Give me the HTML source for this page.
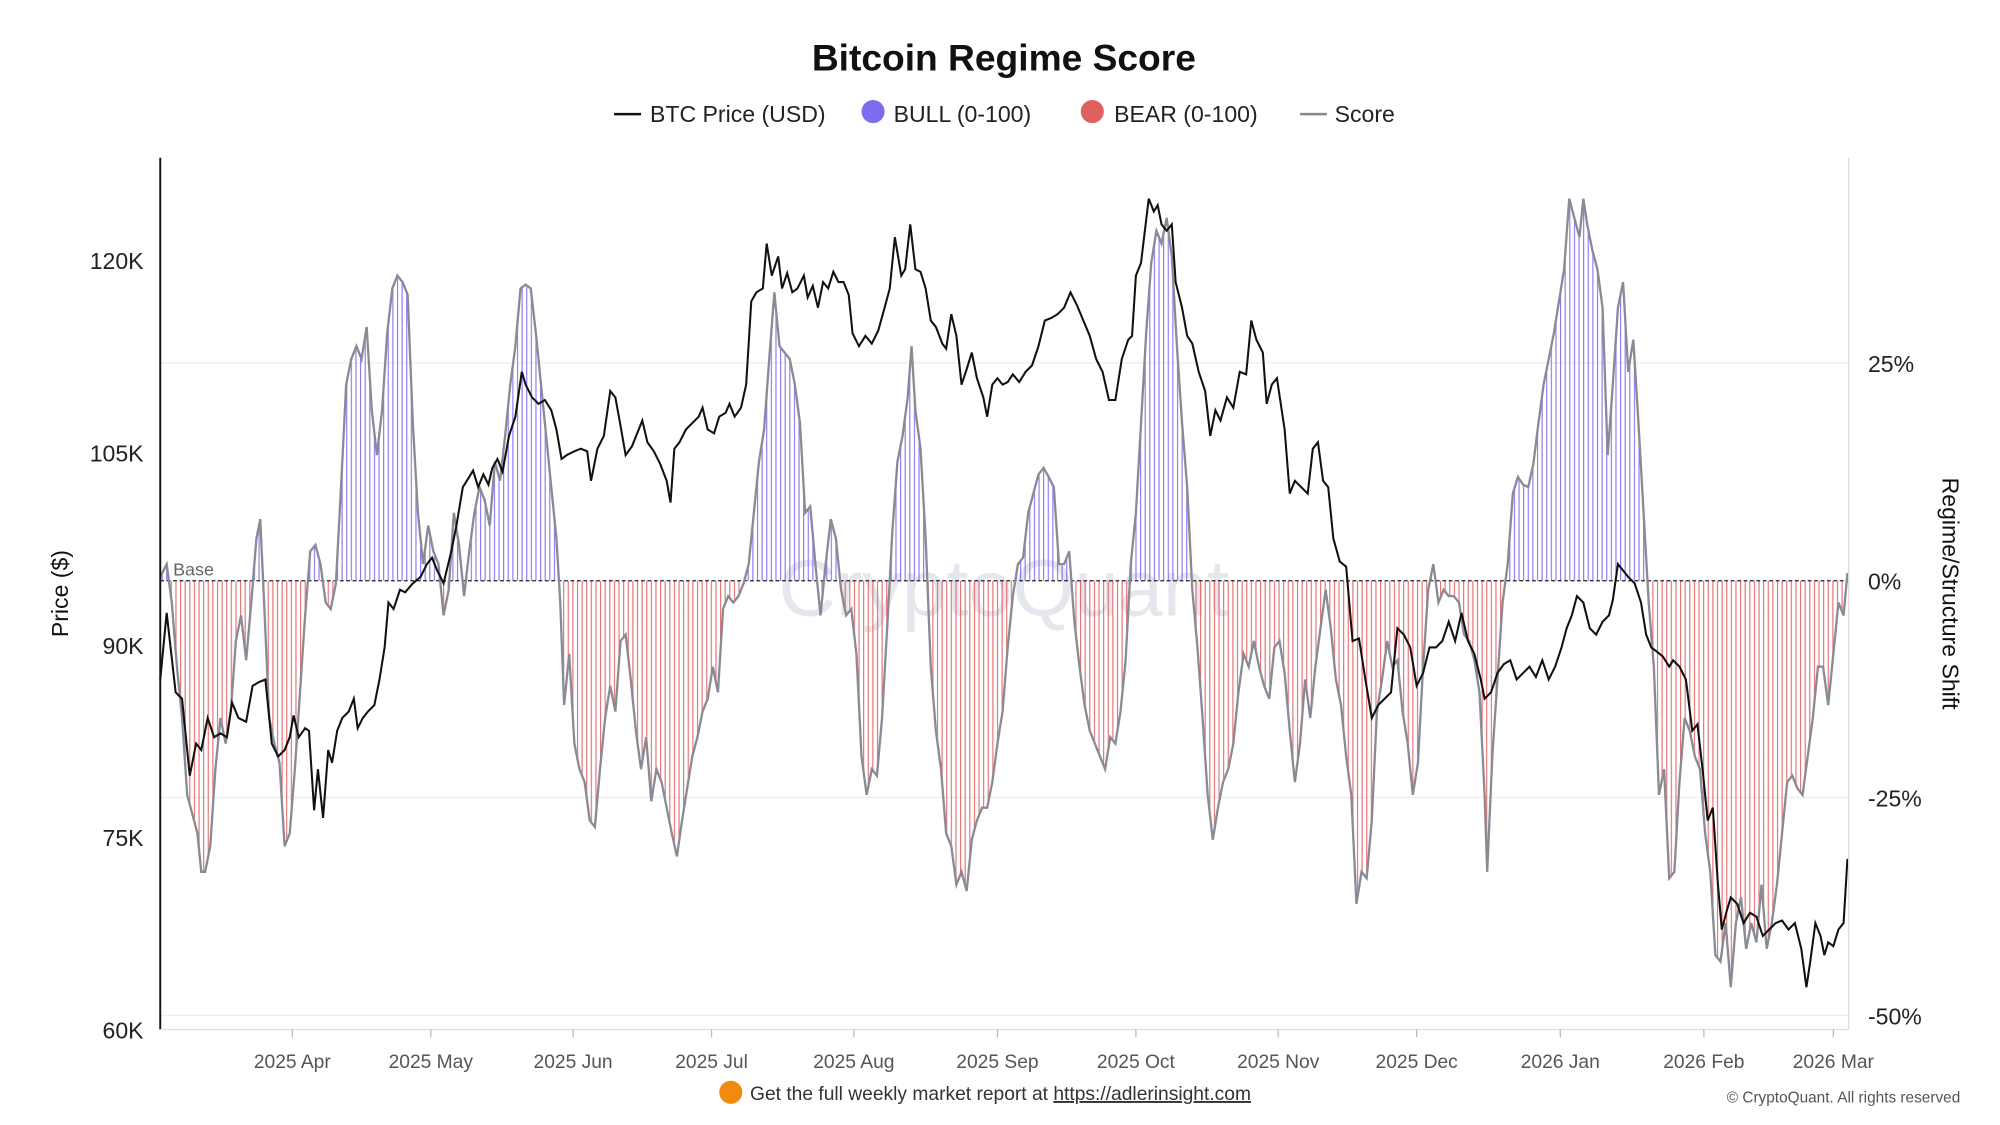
<!DOCTYPE html>
<html><head><meta charset="utf-8"><style>
html,body{margin:0;padding:0;background:#fff;}
svg{display:block;font-family:"Liberation Sans",sans-serif;}
</style></head><body>
<svg width="2000" height="1125" viewBox="0 0 1560 877.5" xmlns="http://www.w3.org/2000/svg">
<defs>
<pattern id="pb" x="126" y="0" width="3.6" height="10" patternUnits="userSpaceOnUse"><rect x="0" y="0" width="0.9" height="10" fill="#7565ee" fill-opacity="0.85"/></pattern>
<pattern id="pr" x="126" y="0" width="3.6" height="10" patternUnits="userSpaceOnUse"><rect x="0" y="0" width="0.9" height="10" fill="#e05a5a" fill-opacity="0.85"/></pattern>
<clipPath id="up"><rect x="120" y="100" width="1330" height="353"/></clipPath>
<clipPath id="dn"><rect x="120" y="453" width="1330" height="400"/></clipPath>
</defs>
<rect width="1560" height="877.5" fill="#fff"/>
<text x="783" y="55" text-anchor="middle" font-size="29" font-weight="bold" fill="#111">Bitcoin Regime Score</text>
<g font-size="18" fill="#222">
<line x1="479" y1="89" x2="500" y2="89" stroke="#111" stroke-width="2"/><text x="507" y="95">BTC Price (USD)</text>
<circle cx="681" cy="87" r="9" fill="#7b6cf0"/><text x="697" y="95">BULL (0-100)</text>
<circle cx="852" cy="87" r="9" fill="#e06060"/><text x="869" y="95">BEAR (0-100)</text>
<line x1="1014" y1="89" x2="1035" y2="89" stroke="#888" stroke-width="2"/><text x="1041" y="95">Score</text>
</g>
<g stroke="#eee" stroke-width="1">
<line x1="125" y1="283" x2="1442" y2="283"/><line x1="125" y1="622" x2="1442" y2="622"/><line x1="125" y1="792" x2="1442" y2="792"/>
</g>
<text x="783" y="480" text-anchor="middle" font-size="62" fill="#e6e6ee">CryptoQuant</text>
<polygon clip-path="url(#up)" fill="url(#pb)" points="125,453,125,450,130,440,134,470,138,520,142,560,146,620,150,635,154,650,157,680,160,680,164,660,168,600,172,560,176,580,180,555,184,500,188,480,192,515,196,470,200,420,203,405,206,470,210,560,214,580,218,595,222,660,226,650,230,600,234,540,238,480,242,430,246,425,250,440,254,470,258,475,262,455,266,380,270,300,274,280,278,270,282,280,286,255,290,320,294,355,298,320,302,260,306,225,310,215,314,220,318,230,322,330,326,400,330,440,334,410,338,430,342,440,346,480,350,460,354,400,358,425,362,465,366,430,370,400,374,380,378,390,382,410,386,360,390,375,394,340,398,300,402,270,406,225,410,222,414,225,418,260,422,300,426,340,430,380,434,420,437,470,440,550,444,510,448,580,452,600,456,610,460,640,464,645,468,600,472,560,476,535,480,555,484,500,488,495,492,530,496,570,500,600,504,575,508,625,512,600,516,610,520,630,524,650,528,668,532,640,536,615,540,590,544,575,548,555,552,545,556,520,560,540,564,475,568,465,572,470,576,465,580,455,584,440,588,400,592,360,596,335,600,280,604,228,608,270,612,275,616,280,620,300,624,330,628,400,632,395,636,440,640,480,644,440,648,405,652,420,656,460,660,480,664,475,668,510,672,590,676,620,680,600,684,605,688,560,692,490,696,415,700,360,704,340,708,310,711,270,714,320,718,350,722,420,726,520,730,570,734,600,738,650,742,660,746,690,750,680,754,695,758,655,762,640,766,630,770,630,774,610,778,580,782,555,786,505,790,465,794,440,798,435,802,400,806,385,810,370,814,365,818,372,822,380,826,440,830,440,834,430,838,485,842,520,846,550,850,570,854,580,858,590,862,600,866,575,870,580,874,555,878,515,882,440,886,400,890,330,894,260,898,205,902,180,906,190,910,170,914,200,918,270,922,330,926,380,930,460,934,505,938,560,942,620,946,655,950,630,954,610,958,600,962,580,966,540,970,510,974,520,978,500,982,520,986,535,990,545,994,505,998,500,1002,525,1006,570,1010,610,1014,580,1018,530,1022,560,1026,520,1030,490,1034,460,1038,490,1042,530,1046,550,1050,590,1054,620,1058,705,1062,680,1066,685,1070,640,1074,555,1078,530,1082,500,1086,520,1090,515,1094,555,1098,580,1102,620,1106,595,1110,520,1114,460,1118,440,1122,470,1126,460,1130,465,1134,465,1138,470,1142,495,1146,500,1150,515,1154,540,1158,620,1160,680,1164,590,1168,530,1172,470,1176,440,1180,385,1184,372,1188,378,1192,380,1196,362,1200,330,1204,300,1208,280,1212,260,1216,235,1220,210,1224,155,1228,170,1232,185,1235,155,1238,175,1242,195,1246,210,1250,240,1254,355,1258,300,1262,240,1266,220,1270,290,1274,265,1278,330,1282,400,1286,470,1290,520,1294,620,1298,600,1302,685,1306,680,1310,610,1314,560,1318,570,1322,590,1326,600,1330,650,1334,680,1338,745,1342,750,1346,720,1350,770,1354,720,1358,700,1362,740,1366,720,1370,735,1374,690,1378,740,1382,720,1386,690,1390,650,1394,610,1398,605,1402,615,1406,620,1410,590,1414,560,1418,520,1422,520,1426,550,1430,510,1434,470,1438,480,1441,447,1441,453"/>
<polygon clip-path="url(#dn)" fill="url(#pr)" points="125,453,125,450,130,440,134,470,138,520,142,560,146,620,150,635,154,650,157,680,160,680,164,660,168,600,172,560,176,580,180,555,184,500,188,480,192,515,196,470,200,420,203,405,206,470,210,560,214,580,218,595,222,660,226,650,230,600,234,540,238,480,242,430,246,425,250,440,254,470,258,475,262,455,266,380,270,300,274,280,278,270,282,280,286,255,290,320,294,355,298,320,302,260,306,225,310,215,314,220,318,230,322,330,326,400,330,440,334,410,338,430,342,440,346,480,350,460,354,400,358,425,362,465,366,430,370,400,374,380,378,390,382,410,386,360,390,375,394,340,398,300,402,270,406,225,410,222,414,225,418,260,422,300,426,340,430,380,434,420,437,470,440,550,444,510,448,580,452,600,456,610,460,640,464,645,468,600,472,560,476,535,480,555,484,500,488,495,492,530,496,570,500,600,504,575,508,625,512,600,516,610,520,630,524,650,528,668,532,640,536,615,540,590,544,575,548,555,552,545,556,520,560,540,564,475,568,465,572,470,576,465,580,455,584,440,588,400,592,360,596,335,600,280,604,228,608,270,612,275,616,280,620,300,624,330,628,400,632,395,636,440,640,480,644,440,648,405,652,420,656,460,660,480,664,475,668,510,672,590,676,620,680,600,684,605,688,560,692,490,696,415,700,360,704,340,708,310,711,270,714,320,718,350,722,420,726,520,730,570,734,600,738,650,742,660,746,690,750,680,754,695,758,655,762,640,766,630,770,630,774,610,778,580,782,555,786,505,790,465,794,440,798,435,802,400,806,385,810,370,814,365,818,372,822,380,826,440,830,440,834,430,838,485,842,520,846,550,850,570,854,580,858,590,862,600,866,575,870,580,874,555,878,515,882,440,886,400,890,330,894,260,898,205,902,180,906,190,910,170,914,200,918,270,922,330,926,380,930,460,934,505,938,560,942,620,946,655,950,630,954,610,958,600,962,580,966,540,970,510,974,520,978,500,982,520,986,535,990,545,994,505,998,500,1002,525,1006,570,1010,610,1014,580,1018,530,1022,560,1026,520,1030,490,1034,460,1038,490,1042,530,1046,550,1050,590,1054,620,1058,705,1062,680,1066,685,1070,640,1074,555,1078,530,1082,500,1086,520,1090,515,1094,555,1098,580,1102,620,1106,595,1110,520,1114,460,1118,440,1122,470,1126,460,1130,465,1134,465,1138,470,1142,495,1146,500,1150,515,1154,540,1158,620,1160,680,1164,590,1168,530,1172,470,1176,440,1180,385,1184,372,1188,378,1192,380,1196,362,1200,330,1204,300,1208,280,1212,260,1216,235,1220,210,1224,155,1228,170,1232,185,1235,155,1238,175,1242,195,1246,210,1250,240,1254,355,1258,300,1262,240,1266,220,1270,290,1274,265,1278,330,1282,400,1286,470,1290,520,1294,620,1298,600,1302,685,1306,680,1310,610,1314,560,1318,570,1322,590,1326,600,1330,650,1334,680,1338,745,1342,750,1346,720,1350,770,1354,720,1358,700,1362,740,1366,720,1370,735,1374,690,1378,740,1382,720,1386,690,1390,650,1394,610,1398,605,1402,615,1406,620,1410,590,1414,560,1418,520,1422,520,1426,550,1430,510,1434,470,1438,480,1441,447,1441,453"/>
<line x1="125" y1="453" x2="1442" y2="453" stroke="#222" stroke-width="1" stroke-dasharray="3,2"/>
<text x="135" y="449" font-size="14" fill="#666">Base</text>
<polyline fill="none" stroke="#8a8a96" stroke-width="1.8" points="125,450,130,440,134,470,138,520,142,560,146,620,150,635,154,650,157,680,160,680,164,660,168,600,172,560,176,580,180,555,184,500,188,480,192,515,196,470,200,420,203,405,206,470,210,560,214,580,218,595,222,660,226,650,230,600,234,540,238,480,242,430,246,425,250,440,254,470,258,475,262,455,266,380,270,300,274,280,278,270,282,280,286,255,290,320,294,355,298,320,302,260,306,225,310,215,314,220,318,230,322,330,326,400,330,440,334,410,338,430,342,440,346,480,350,460,354,400,358,425,362,465,366,430,370,400,374,380,378,390,382,410,386,360,390,375,394,340,398,300,402,270,406,225,410,222,414,225,418,260,422,300,426,340,430,380,434,420,437,470,440,550,444,510,448,580,452,600,456,610,460,640,464,645,468,600,472,560,476,535,480,555,484,500,488,495,492,530,496,570,500,600,504,575,508,625,512,600,516,610,520,630,524,650,528,668,532,640,536,615,540,590,544,575,548,555,552,545,556,520,560,540,564,475,568,465,572,470,576,465,580,455,584,440,588,400,592,360,596,335,600,280,604,228,608,270,612,275,616,280,620,300,624,330,628,400,632,395,636,440,640,480,644,440,648,405,652,420,656,460,660,480,664,475,668,510,672,590,676,620,680,600,684,605,688,560,692,490,696,415,700,360,704,340,708,310,711,270,714,320,718,350,722,420,726,520,730,570,734,600,738,650,742,660,746,690,750,680,754,695,758,655,762,640,766,630,770,630,774,610,778,580,782,555,786,505,790,465,794,440,798,435,802,400,806,385,810,370,814,365,818,372,822,380,826,440,830,440,834,430,838,485,842,520,846,550,850,570,854,580,858,590,862,600,866,575,870,580,874,555,878,515,882,440,886,400,890,330,894,260,898,205,902,180,906,190,910,170,914,200,918,270,922,330,926,380,930,460,934,505,938,560,942,620,946,655,950,630,954,610,958,600,962,580,966,540,970,510,974,520,978,500,982,520,986,535,990,545,994,505,998,500,1002,525,1006,570,1010,610,1014,580,1018,530,1022,560,1026,520,1030,490,1034,460,1038,490,1042,530,1046,550,1050,590,1054,620,1058,705,1062,680,1066,685,1070,640,1074,555,1078,530,1082,500,1086,520,1090,515,1094,555,1098,580,1102,620,1106,595,1110,520,1114,460,1118,440,1122,470,1126,460,1130,465,1134,465,1138,470,1142,495,1146,500,1150,515,1154,540,1158,620,1160,680,1164,590,1168,530,1172,470,1176,440,1180,385,1184,372,1188,378,1192,380,1196,362,1200,330,1204,300,1208,280,1212,260,1216,235,1220,210,1224,155,1228,170,1232,185,1235,155,1238,175,1242,195,1246,210,1250,240,1254,355,1258,300,1262,240,1266,220,1270,290,1274,265,1278,330,1282,400,1286,470,1290,520,1294,620,1298,600,1302,685,1306,680,1310,610,1314,560,1318,570,1322,590,1326,600,1330,650,1334,680,1338,745,1342,750,1346,720,1350,770,1354,720,1358,700,1362,740,1366,720,1370,735,1374,690,1378,740,1382,720,1386,690,1390,650,1394,610,1398,605,1402,615,1406,620,1410,590,1414,560,1418,520,1422,520,1426,550,1430,510,1434,470,1438,480,1441,447"/>
<polyline fill="none" stroke="#111" stroke-width="1.6" points="125,530,130,478,137,540,142,545,148,605,153,580,157,585,162,560,167,575,172,572,177,575,181,548,186,560,192,563,197,535,202,532,207,530,212,580,217,590,222,585,226,575,229,558,233,575,238,568,241,570,245,632,248,600,252,638,256,585,259,595,263,570,267,560,272,555,276,545,279,568,283,560,287,555,292,550,296,530,300,505,303,470,307,475,312,460,316,462,322,455,328,450,333,440,337,435,341,445,346,455,352,430,356,410,361,380,366,372,369,367,373,380,377,370,381,378,384,365,388,358,392,368,397,340,402,325,407,290,410,300,415,310,420,315,425,312,430,320,434,335,438,358,442,355,448,352,453,350,458,352,461,375,466,350,471,340,476,305,480,310,484,332,488,355,493,348,497,338,501,328,505,345,510,352,515,362,520,375,523,392,526,350,530,345,535,335,540,330,545,325,548,318,552,335,557,338,561,325,566,322,569,315,573,325,578,318,582,300,586,235,590,228,595,225,598,190,602,215,607,200,610,225,614,213,618,228,622,225,627,215,630,232,634,223,638,240,642,220,646,225,650,212,654,220,658,220,662,230,665,260,670,270,675,262,680,268,685,258,690,240,694,225,698,185,703,215,706,210,710,175,714,210,718,212,722,225,726,250,730,255,735,268,738,272,742,245,746,262,750,300,754,288,758,275,762,295,767,310,770,325,774,300,778,295,782,300,786,298,790,292,795,298,800,290,805,285,810,270,815,250,820,248,825,245,830,240,835,228,840,238,845,250,850,262,855,280,860,290,865,312,870,312,875,280,880,265,883,262,886,215,890,205,893,180,896,155,900,165,903,160,906,175,910,180,914,175,917,220,922,240,926,262,930,268,935,290,940,305,944,340,948,320,952,328,957,310,962,318,967,290,972,292,976,250,980,265,985,275,988,315,992,300,996,295,1002,335,1006,385,1010,375,1015,380,1020,385,1024,350,1028,345,1032,375,1036,380,1040,420,1045,438,1050,442,1055,500,1060,498,1065,530,1070,560,1075,550,1080,545,1085,540,1090,490,1095,495,1100,505,1105,535,1110,525,1115,505,1120,505,1125,500,1130,485,1135,500,1140,478,1145,500,1150,510,1155,530,1158,545,1163,540,1168,525,1173,518,1178,515,1183,530,1188,525,1193,520,1198,528,1203,515,1208,530,1213,520,1218,505,1222,490,1226,480,1230,465,1235,470,1240,490,1245,495,1250,485,1255,480,1258,468,1262,440,1266,445,1270,450,1275,455,1280,470,1284,495,1288,505,1292,508,1297,512,1302,520,1305,515,1310,520,1315,530,1320,570,1324,565,1328,600,1332,640,1336,630,1340,690,1343,725,1347,710,1350,700,1355,705,1360,720,1365,712,1370,715,1375,730,1380,725,1385,720,1390,718,1395,725,1400,720,1405,740,1409,770,1412,750,1416,720,1420,730,1423,745,1426,735,1430,738,1434,725,1438,720,1441,670"/>
<line x1="125" y1="123" x2="125" y2="803" stroke="#111" stroke-width="1.5"/>
<line x1="1442" y1="123" x2="1442" y2="803" stroke="#ddd" stroke-width="1"/>
<line x1="125" y1="803" x2="1442" y2="803" stroke="#ddd" stroke-width="1"/>
<g font-size="18" fill="#222" text-anchor="end">
<text x="112" y="210">120K</text><text x="112" y="360">105K</text><text x="112" y="510">90K</text><text x="112" y="660">75K</text><text x="112" y="810">60K</text>
</g>
<g font-size="18" fill="#222">
<text x="1457" y="290">25%</text><text x="1457" y="460">0%</text><text x="1457" y="629">-25%</text><text x="1457" y="799">-50%</text>
</g>
<text transform="translate(53,463) rotate(-90)" text-anchor="middle" font-size="18" fill="#111">Price ($)</text>
<text transform="translate(1515,463) rotate(90)" text-anchor="middle" font-size="18" fill="#111">Regime/Structure Shift</text>
<g font-size="15" fill="#555" text-anchor="middle">
<text x="228" y="833">2025 Apr</text><text x="336" y="833">2025 May</text><text x="447" y="833">2025 Jun</text><text x="555" y="833">2025 Jul</text><text x="666" y="833">2025 Aug</text><text x="778" y="833">2025 Sep</text><text x="886" y="833">2025 Oct</text><text x="997" y="833">2025 Nov</text><text x="1105" y="833">2025 Dec</text><text x="1217" y="833">2026 Jan</text><text x="1329" y="833">2026 Feb</text><text x="1430" y="833">2026 Mar</text>
</g>
<g stroke="#bbb"><line x1="228" y1="803" x2="228" y2="809"/><line x1="336" y1="803" x2="336" y2="809"/><line x1="447" y1="803" x2="447" y2="809"/><line x1="555" y1="803" x2="555" y2="809"/><line x1="666" y1="803" x2="666" y2="809"/><line x1="778" y1="803" x2="778" y2="809"/><line x1="886" y1="803" x2="886" y2="809"/><line x1="997" y1="803" x2="997" y2="809"/><line x1="1105" y1="803" x2="1105" y2="809"/><line x1="1217" y1="803" x2="1217" y2="809"/><line x1="1329" y1="803" x2="1329" y2="809"/><line x1="1430" y1="803" x2="1430" y2="809"/></g>
<circle cx="570" cy="852" r="9" fill="#f08a10"/>
<text x="585" y="858" font-size="15" fill="#333">Get the full weekly market report at <tspan text-decoration="underline">https://adlerinsight.com</tspan></text>
<text x="1529" y="860" text-anchor="end" font-size="12" fill="#555">© CryptoQuant. All rights reserved</text>
</svg>
</body></html>
